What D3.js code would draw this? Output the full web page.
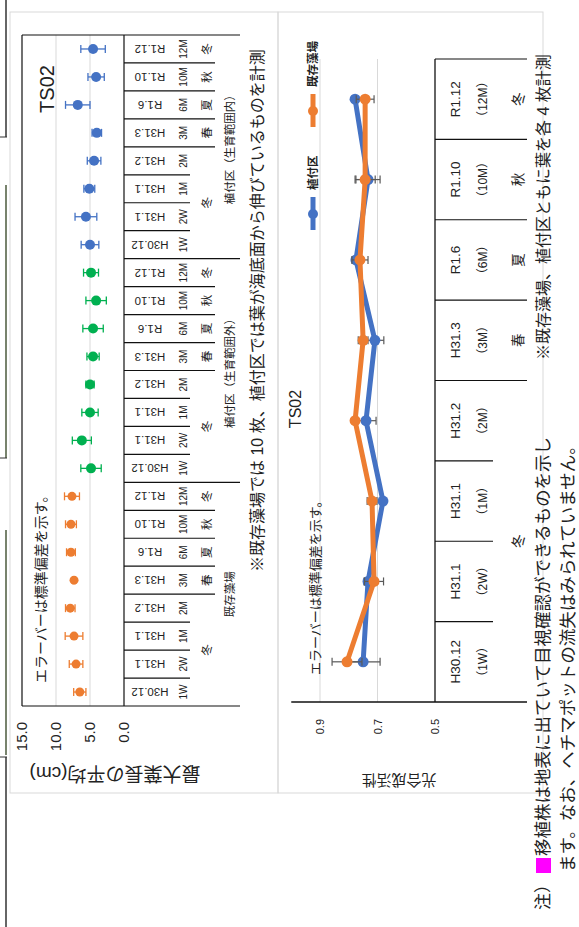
<!DOCTYPE html>
<html>
<head>
<meta charset="utf-8">
<script src="https://cdn.jsdelivr.net/npm/d3@7"></script>
<style>
  body { margin: 0; background: #fff; }
  svg { display: block; }
  text { font-family: "Liberation Sans", "Noto Sans CJK JP", sans-serif; fill: #222; }
</style>
</head>
<body>
<div id="chart"></div>
<script>
const W = 579;
const H = 927;

// category table (same 8 surveys in both charts)
const dates = ['H30.12', 'H31.1', 'H31.1', 'H31.2', 'H31.3', 'R1.6', 'R1.10', 'R1.12'];
const elapsed = ['1W', '2W', '1M', '2M', '3M', '6M', '10M', '12M'];
const seasons = ['冬', '冬', '冬', '冬', '春', '夏', '秋', '冬'];
const groups = ['既存藻場', '植付区（生育範囲外）', '植付区（生育範囲内）'];

// chart 1: 最大葉長の平均 (cm) and standard deviation
const lenKizon = [6.5, 7.05, 7.35, 7.9, 7.35, 7.8, 7.8, 7.65];
const sdKizon = [0.9, 1.0, 1.3, 0.7, 0.2, 0.65, 0.8, 1.1];
const lenSoto = [4.85, 6.2, 5.0, 5.0, 4.55, 4.55, 4.1, 4.85];
const sdSoto = [1.5, 1.4, 1.2, 0.6, 0.9, 1.5, 1.5, 1.1];
const lenUchi = [5.0, 5.6, 5.1, 4.4, 4.0, 6.8, 4.1, 4.55];
const sdUchi = [1.3, 1.6, 0.8, 1.0, 0.7, 1.8, 1.2, 1.8];
const lenTicks = [0, 5, 10, 15];

// chart 2: 光合成活性
const photoUe = [0.750, 0.733, 0.681, 0.740, 0.709, 0.775, 0.733, 0.778];
const sdUe = [0.059, 0.014, 0.005, 0.035, 0.031, 0.008, 0.042, 0.005];
const photoKi = [0.806, 0.712, 0.719, 0.778, 0.750, 0.761, 0.743, 0.743];
const sdKi = [0.052, 0.033, 0.017, 0.005, 0.017, 0.028, 0.035, 0.031];
const photoTicks = [0.5, 0.7, 0.9];

const BLUE = '#4472C4';
const ORANGE = '#ED7D31';
const GREEN = '#00B050';

const svg = d3.select('#chart').append('svg').attr('width', W).attr('height', H);
svg.append('rect').attr('width', W).attr('height', H).attr('fill', '#fff');

// binding edge of the scanned page
[[0, 137, '#333'], [185, 458, '#4b5a3c'], [530, 755, '#4b5a3c'], [757, 927, '#333']].forEach(([a, b, c]) => {
  svg.append('line').attr('x1', 6).attr('x2', 6).attr('y1', a).attr('y2', b)
    .attr('stroke', c).attr('stroke-width', 1.5);
});
[137, 458, 757].forEach((y) => {
  svg.append('line').attr('x1', 0).attr('x2', 7).attr('y1', y).attr('y2', y)
    .attr('stroke', '#333').attr('stroke-width', 1);
});

// the page was scanned sideways: draw it upright, then turn it
const page = svg.append('g').attr('transform', `translate(0,${H}) rotate(-90)`);

// chart frames
page.append('rect').attr('x', 134).attr('y', 10).attr('width', 781).attr('height', 268)
  .attr('fill', 'none').attr('stroke', '#d9d9d9');
page.append('rect').attr('x', 134).attr('y', 278).attr('width', 781).attr('height', 265)
  .attr('fill', 'none').attr('stroke', '#d9d9d9');

function hline(g, x1, x2, y, color, w) {
  g.append('line').attr('x1', x1).attr('x2', x2).attr('y1', y).attr('y2', y)
    .attr('stroke', color).attr('stroke-width', w || 1);
}
function vline(g, x, y1, y2, color, w) {
  g.append('line').attr('x1', x).attr('x2', x).attr('y1', y1).attr('y2', y2)
    .attr('stroke', color).attr('stroke-width', w || 1);
}

////// CHART 1 //////
const c1 = page.append('g');
const nCat = groups.length * dates.length;
const x1 = d3.scaleBand().domain(d3.range(nCat)).range([221, 892]);
const y1 = d3.scaleLinear().domain([0, 15]).range([124, 22]);

// gridlines and frame
lenTicks.forEach((t) => {
  const edge = t === 0 || t === 15;
  hline(c1, 221, 892, y1(t), edge ? '#111' : '#d9d9d9', edge ? 1.2 : 1);
});
vline(c1, 221, 22, 124, '#111', 1.2);
vline(c1, 892, 22, 124, '#111', 1.2);
c1.selectAll('.tick1')
  .data(lenTicks)
  .join('text')
  .attr('x', 205)
  .attr('y', (d) => y1(d) + 5)
  .attr('text-anchor', 'end')
  .attr('font-size', 15)
  .text((d) => d.toFixed(1));

// multi-level category table below the axis
for (let i = 0; i <= nCat; i++) {
  const x = x1.range()[0] + i * x1.bandwidth();
  const k = i % dates.length;
  let bottom = 190;
  if (k === 0) bottom = 240;
  else if (seasons[k] !== seasons[k - 1]) bottom = 215;
  vline(c1, x, y1(0), bottom, '#111', 1.2);
}

d3.range(nCat).forEach((i) => {
  const k = i % dates.length;
  const cx = x1(i) + x1.bandwidth() / 2;
  c1.append('text')
    .attr('transform', `translate(${cx},150) rotate(-90)`)
    .attr('text-anchor', 'middle')
    .attr('dominant-baseline', 'central')
    .attr('font-size', 11.5)
    .text(dates[k]);
  c1.append('text')
    .attr('x', cx)
    .attr('y', 187)
    .attr('text-anchor', 'middle')
    .attr('font-size', 10)
    .text(elapsed[k]);
});

groups.forEach((g, gi) => {
  const base = gi * dates.length;
  // merge consecutive seasons
  let s = 0;
  for (let k = 1; k <= dates.length; k++) {
    if (k === dates.length || seasons[k] !== seasons[s]) {
      const a = x1(base + s);
      const b = x1(base + k - 1) + x1.bandwidth();
      c1.append('text')
        .attr('x', (a + b) / 2)
        .attr('y', 211)
        .attr('text-anchor', 'middle')
        .attr('font-size', 11.5)
        .text(seasons[s]);
      s = k;
    }
  }
  const ga = x1(base);
  const gb = x1(base + dates.length - 1) + x1.bandwidth();
  c1.append('text')
    .attr('x', (ga + gb) / 2)
    .attr('y', 234)
    .attr('text-anchor', 'middle')
    .attr('font-size', 11.5)
    .text(g);
});

const series1 = [
  { vals: lenKizon, sd: sdKizon, color: ORANGE, r: 4.5 },
  { vals: lenSoto, sd: sdSoto, color: GREEN, r: 5 },
  { vals: lenUchi, sd: sdUchi, color: BLUE, r: 5 },
];
series1.forEach((s, gi) => {
  const pts = s.vals.map((v, k) => ({ i: gi * dates.length + k, v, sd: s.sd[k] }));
  const g = c1.append('g').attr('stroke', s.color).attr('stroke-width', 1.3);
  g.selectAll('.eb')
    .data(pts)
    .join('line')
    .attr('x1', (d) => x1(d.i) + x1.bandwidth() / 2)
    .attr('x2', (d) => x1(d.i) + x1.bandwidth() / 2)
    .attr('y1', (d) => y1(d.v - d.sd))
    .attr('y2', (d) => y1(d.v + d.sd));
  [-1, 1].forEach((sgn) => {
    g.selectAll('.cap' + sgn)
      .data(pts)
      .join('line')
      .attr('x1', (d) => x1(d.i) + x1.bandwidth() / 2 - 4)
      .attr('x2', (d) => x1(d.i) + x1.bandwidth() / 2 + 4)
      .attr('y1', (d) => y1(d.v + sgn * d.sd))
      .attr('y2', (d) => y1(d.v + sgn * d.sd));
  });
  c1.append('g')
    .selectAll('circle')
    .data(pts)
    .join('circle')
    .attr('cx', (d) => x1(d.i) + x1.bandwidth() / 2)
    .attr('cy', (d) => y1(d.v))
    .attr('r', s.r)
    .attr('fill', s.color);
});

c1.append('text').attr('x', 838).attr('y', 54).attr('text-anchor', 'middle')
  .attr('font-size', 20).text('TS02');
c1.append('text').attr('x', 244).attr('y', 46).attr('font-size', 14)
  .text('エラーバーは標準偏差を示す。');
c1.append('text')
  .attr('transform', 'translate(154,115) rotate(-90)')
  .attr('text-anchor', 'middle')
  .attr('dominant-baseline', 'central')
  .attr('font-size', 19)
  .text('最大葉長の平均(cm)');
c1.append('text').attr('x', 355).attr('y', 263).attr('font-size', 16)
  .text('※既存藻場では 10 枚、植付区では葉が海底面から伸びているものを計測');

////// CHART 2 //////
const c2 = page.append('g');
const x2 = d3.scaleBand().domain(d3.range(dates.length)).range([225, 868]);
const y2 = d3.scaleLinear().domain([0.5, 1.0]).range([435, 291.25]);
const cx2 = (i) => x2(i) + x2.bandwidth() / 2;

photoTicks.forEach((t) => {
  if (t > 0.5) hline(c2, 225, 868, y2(t), '#d9d9d9');
});
hline(c2, 225, 868, y2(0.5), '#111', 1.3);
vline(c2, 225, y2(1.0), 527, '#111', 1.3);
c2.selectAll('.tick2')
  .data(photoTicks)
  .join('text')
  .attr('x', 208)
  .attr('y', (d) => y2(d) + 4)
  .attr('text-anchor', 'end')
  .attr('font-size', 11)
  .text((d) => d.toFixed(1));

for (let k = 1; k <= dates.length; k++) {
  const x = x2.range()[0] + k * x2.bandwidth();
  const bottom = k === dates.length || seasons[k] !== seasons[k - 1] ? 527 : 493;
  vline(c2, x, 435, bottom, '#111', 1.2);
}
dates.forEach((d, k) => {
  c2.append('text').attr('x', cx2(k)).attr('y', 460).attr('text-anchor', 'middle')
    .attr('font-size', 13.5).text(d);
  c2.append('text').attr('x', cx2(k)).attr('y', 487).attr('text-anchor', 'middle')
    .attr('font-size', 12).text('（' + elapsed[k] + '）');
});
let s0 = 0;
for (let k = 1; k <= dates.length; k++) {
  if (k === dates.length || seasons[k] !== seasons[s0]) {
    c2.append('text')
      .attr('x', (x2(s0) + x2(k - 1) + x2.bandwidth()) / 2)
      .attr('y', 523)
      .attr('text-anchor', 'middle')
      .attr('font-size', 13.5)
      .text(seasons[s0]);
    s0 = k;
  }
}

const series2 = [
  { vals: photoUe, sd: sdUe, color: BLUE, name: '植付区' },
  { vals: photoKi, sd: sdKi, color: ORANGE, name: '既存藻場' },
];
const line2 = d3.line().x((d, i) => cx2(i)).y((d) => y2(d));
series2.forEach((s) => {
  c2.append('path')
    .datum(s.vals)
    .attr('d', line2)
    .attr('fill', 'none')
    .attr('stroke', s.color)
    .attr('stroke-width', 5)
    .attr('stroke-linejoin', 'round');
  const pts = s.vals.map((v, i) => ({ i, v, sd: s.sd[i] }));
  const g = c2.append('g').attr('stroke', '#595959').attr('stroke-width', 1.2);
  g.selectAll('.eb')
    .data(pts)
    .join('line')
    .attr('x1', (d) => cx2(d.i))
    .attr('x2', (d) => cx2(d.i))
    .attr('y1', (d) => y2(d.v - d.sd))
    .attr('y2', (d) => y2(d.v + d.sd));
  [-1, 1].forEach((sgn) => {
    g.selectAll('.cap' + sgn)
      .data(pts)
      .join('line')
      .attr('x1', (d) => cx2(d.i) - 4)
      .attr('x2', (d) => cx2(d.i) + 4)
      .attr('y1', (d) => y2(d.v + sgn * d.sd))
      .attr('y2', (d) => y2(d.v + sgn * d.sd));
  });
  c2.append('g')
    .selectAll('circle')
    .data(pts)
    .join('circle')
    .attr('cx', (d) => cx2(d.i))
    .attr('cy', (d) => y2(d.v))
    .attr('r', 5.5)
    .attr('fill', s.color);
});

// legend
const legX = [697, 800];
series2.forEach((s, i) => {
  const lx = legX[i];
  hline(c2, lx, lx + 33, 313, s.color, 5);
  c2.append('circle').attr('cx', lx + 16).attr('cy', 313).attr('r', 5).attr('fill', s.color);
  c2.append('text').attr('x', lx + 40).attr('y', 317).attr('font-size', 11.5)
    .attr('font-weight', 'bold').text(s.name);
});

c2.append('text').attr('x', 518).attr('y', 301).attr('text-anchor', 'middle')
  .attr('font-size', 16).text('TS02');
c2.append('text').attr('x', 252).attr('y', 320).attr('font-size', 13)
  .text('エラーバーは標準偏差を示す。');
c2.append('text')
  .attr('transform', 'translate(147,399) rotate(-90)')
  .attr('text-anchor', 'middle')
  .attr('dominant-baseline', 'central')
  .attr('font-size', 15)
  .text('光合成活性');
c2.append('text').attr('x', 567).attr('y', 549).attr('font-size', 16)
  .text('※既存藻場、植付区ともに葉を各 4 枚計測');

// footnote
page.append('text').attr('x', 17).attr('y', 549).attr('font-size', 17).text('注）');
page.append('rect').attr('x', 54).attr('y', 536).attr('width', 15).attr('height', 15).attr('fill', '#FF00FF');
page.append('text').attr('x', 71).attr('y', 549).attr('font-size', 17.5)
  .text('移植株は地表に出ていて目視確認ができるものを示し');
page.append('text').attr('x', 55).attr('y', 574).attr('font-size', 17.5)
  .text('ます。なお、ヘチマポットの流失はみられていません。');
</script>
</body>
</html>
